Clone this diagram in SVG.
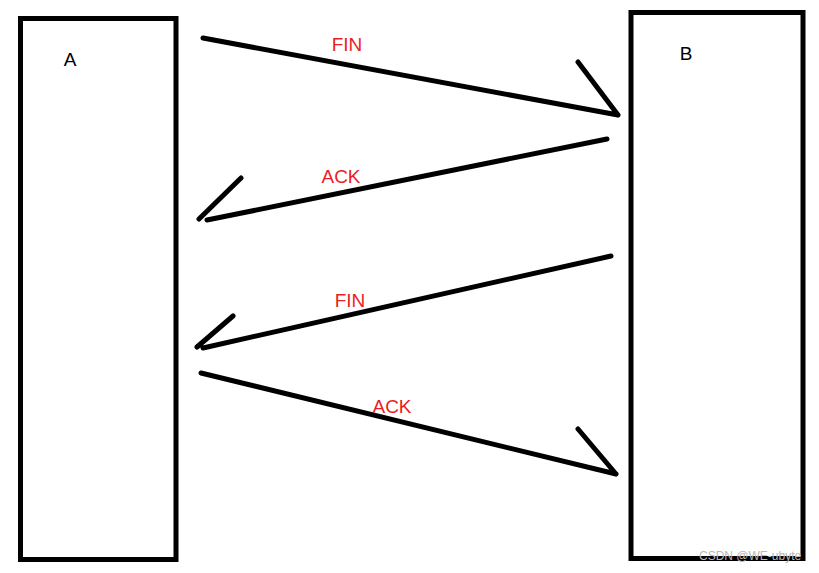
<svg xmlns="http://www.w3.org/2000/svg" width="819" height="573" viewBox="0 0 819 573">
<style>
.box{fill:#fff;stroke:#000;stroke-width:5}
.ln{fill:none;stroke:#000;stroke-width:5;stroke-linecap:round;stroke-linejoin:round}
.lbl{font-family:"Liberation Sans",Arial,sans-serif;font-size:19px;fill:#ec1c24;text-anchor:middle}
.nm{font-family:"Liberation Sans",Arial,sans-serif;font-size:19px;fill:#000;text-anchor:middle}
.wm{font-family:"Liberation Sans",Arial,sans-serif;font-size:12px;fill:#b8b8b8}
</style>
<rect width="819" height="573" fill="#fff"/>
<g id="nodeA">
<rect class="box" x="20.5" y="18.5" width="155.5" height="541"/>
<text class="nm" x="70" y="66">A</text>
</g>
<g id="nodeB">
<rect class="box" x="631" y="12.5" width="172" height="546"/>
<text class="nm" x="686" y="60">B</text>
</g>
<g id="connectors">
<path class="ln" d="M203,38 L618,115 M578,62 L618,115"/>
<path class="ln" d="M607,139 L207,220 M241,178 L199,219"/>
<path class="ln" d="M611,256 L203,348 M233,316 L197,347"/>
<path class="ln" d="M201,373 L616,474 M578,429 L616,474"/>
<text class="lbl" x="347" y="51">FIN</text>
<text class="lbl" x="341" y="183">ACK</text>
<text class="lbl" x="350" y="307">FIN</text>
<text class="lbl" x="392" y="413">ACK</text>
</g>
<text class="wm" x="699" y="560">CSDN @WE-ubyte</text>
</svg>
